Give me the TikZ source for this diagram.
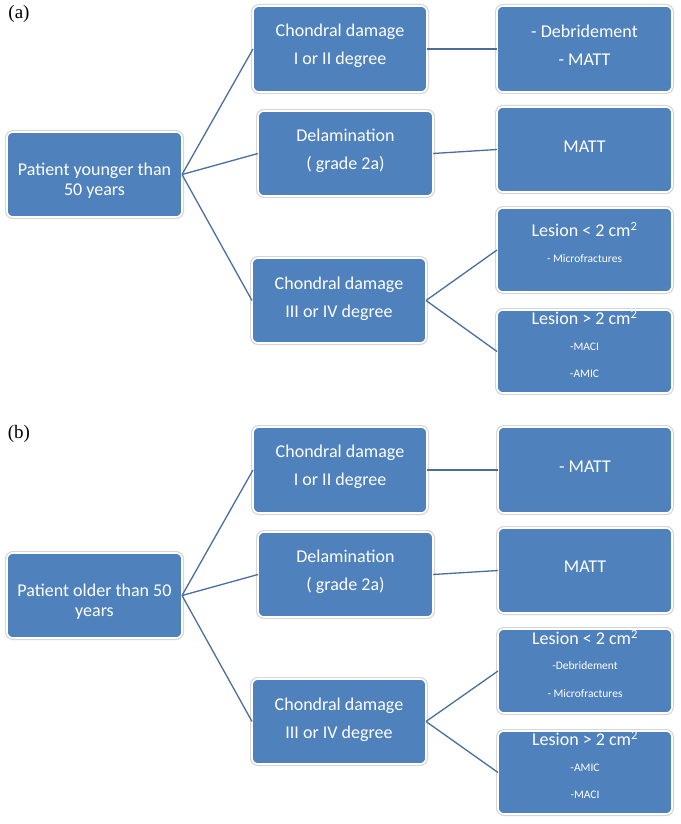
\documentclass[tikz,border=0pt]{standalone}
\usepackage{fontspec}
\setmainfont{Carlito}
\newfontfamily\panelfont{Liberation Serif}
\definecolor{boxblue}{HTML}{4F81BD}
\definecolor{linkblue}{HTML}{4A6E9E}
\tikzset{
  boxnode/.style={draw=white, line width=1.6pt, fill=boxblue, rounded corners=6pt,
    inner sep=0pt, outer sep=0pt, preaction={draw=black!16, line width=4pt}},
  big/.style={font=\fontsize{18}{20}\selectfont, text=white, anchor=mid, inner sep=0pt},
  small/.style={font=\fontsize{11.5}{13}\selectfont, text=white, anchor=mid, inner sep=0pt},
  panel/.style={font=\panelfont\fontsize{19}{21}\selectfont, anchor=mid, inner sep=0pt},
  link/.style={draw=linkblue, line width=1.3pt}
}
\newcommand{\bx}[5]{\node[boxnode, minimum width={#4-#2}, minimum height={#5-#3}] (#1) at ({(#2+#4)/2},{(#3+#5)/2}) {};}
\begin{document}
\begin{tikzpicture}[x=1pt,y=-1pt]
\useasboundingbox[fill=white] (0,0) rectangle (680,824);

% ---------- panel (a)
\node[panel] (pa) at (19,16) {(a)};
\bx{a0}{7}{132}{182}{217}
\bx{a1}{253}{6}{427}{92}
\bx{a2}{258}{111}{433}{196}
\bx{a3}{252}{258}{426}{343}
\bx{a4}{497}{6}{672}{92}
\bx{a5}{497}{107}{672}{192}
\bx{a6}{497}{208}{672}{292}
\bx{a7}{497}{310}{672}{393}

\draw[link] (a0.east) -- (a1.west);
\draw[link] (a0.east) -- (a2.west);
\draw[link] (a0.east) -- (a3.west);
\draw[link] (a1.east) -- (a4.west);
\draw[link] (a2.east) -- (a5.west);
\draw[link] (a3.east) -- (a6.west);
\draw[link] (a3.east) -- (a7.west);

\node[big] (a0t1) at (94.5,173) {Patient younger than};
\node[big] (a0t2) at (94.5,193) {50 years};
\node[big] (a1t1) at (340,34) {Chondral damage};
\node[big] (a1t2) at (340,62) {I or II degree};
\node[big] (a2t1) at (345.5,139) {Delamination};
\node[big] (a2t2) at (345.5,167) {( grade 2a)};
\node[big] (a3t1) at (339,287) {Chondral damage};
\node[big] (a3t2) at (339,315) {III or IV degree};
\node[big] (a4t1) at (584.5,35) {- Debridement};
\node[big] (a4t2) at (584.5,63) {- MATT};
\node[big] (a5t1) at (584.5,150) {MATT};
\node[big] (a6t1) at (584.5,234) {Lesion < 2 cm\textsuperscript{2}};
\node[small] (a6t2) at (584.5,260) {- Microfractures};
\node[big] (a7t1) at (584.5,322) {Lesion > 2 cm\textsuperscript{2}};
\node[small] (a7t2) at (584.5,348) {-MACI};
\node[small] (a7t3) at (584.5,375) {-AMIC};

% ---------- panel (b)
\node[panel] (pb) at (19,436) {(b)};
\bx{b0}{7}{553}{182}{638}
\bx{b1}{253}{427}{427}{513}
\bx{b2}{258}{532}{433}{617}
\bx{b3}{252}{679}{426}{764}
\bx{b4}{498}{427}{672}{513}
\bx{b5}{498}{528}{672}{613}
\bx{b6}{498}{629}{672}{713}
\bx{b7}{498}{731}{672}{814}

\draw[link] (b0.east) -- (b1.west);
\draw[link] (b0.east) -- (b2.west);
\draw[link] (b0.east) -- (b3.west);
\draw[link] (b1.east) -- (b4.west);
\draw[link] (b2.east) -- (b5.west);
\draw[link] (b3.east) -- (b6.west);
\draw[link] (b3.east) -- (b7.west);

\node[big] (b0t1) at (94.5,594) {Patient older than 50};
\node[big] (b0t2) at (94.5,614) {years};
\node[big] (b1t1) at (340,455) {Chondral damage};
\node[big] (b1t2) at (340,483) {I or II degree};
\node[big] (b2t1) at (345.5,560) {Delamination};
\node[big] (b2t2) at (345.5,588) {( grade 2a)};
\node[big] (b3t1) at (339,708) {Chondral damage};
\node[big] (b3t2) at (339,736) {III or IV degree};
\node[big] (b4t1) at (585,470) {- MATT};
\node[big] (b5t1) at (585,570) {MATT};
\node[big] (b6t1) at (585,642) {Lesion < 2 cm\textsuperscript{2}};
\node[small] (b6t2) at (585,667) {-Debridement};
\node[small] (b6t3) at (585,695) {- Microfractures};
\node[big] (b7t1) at (585,743) {Lesion > 2 cm\textsuperscript{2}};
\node[small] (b7t2) at (585,769) {-AMIC};
\node[small] (b7t3) at (585,796) {-MACI};
\end{tikzpicture}
\end{document}
